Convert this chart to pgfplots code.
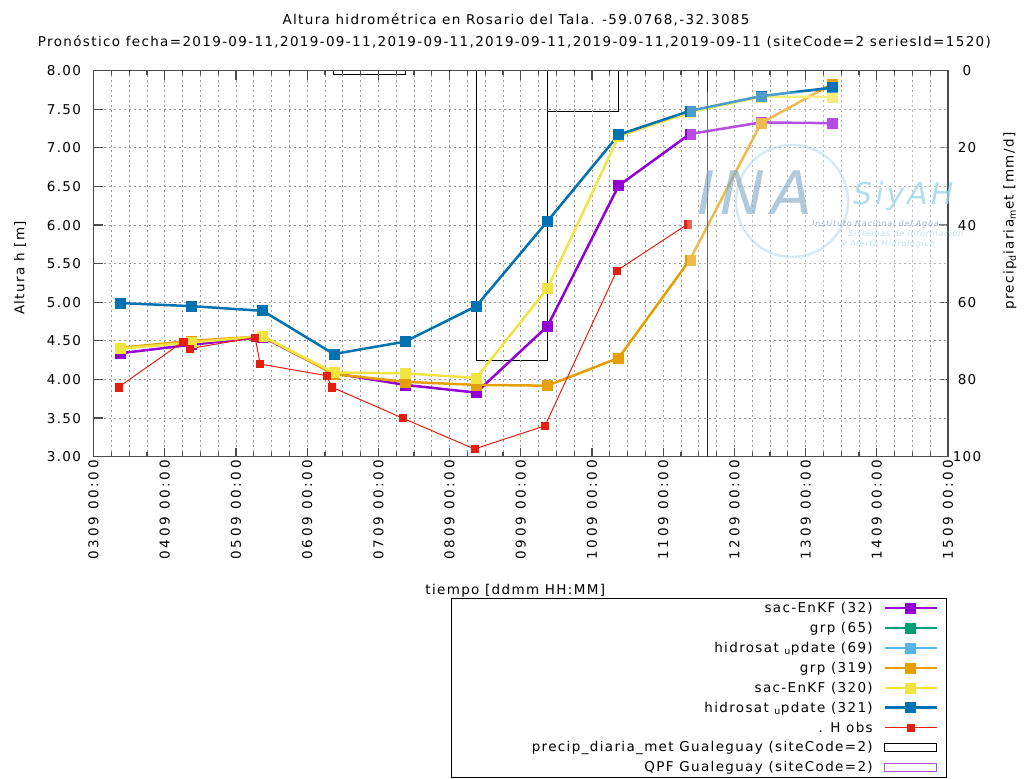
\documentclass[border=0pt]{standalone}
\usepackage{fontspec}
\setmainfont{DejaVu Sans}[LetterSpace=10]
\usepackage{pgfplots}
\pgfplotsset{compat=1.18}
\definecolor{cPurple}{HTML}{9400D3}
\definecolor{cGreen}{HTML}{009E73}
\definecolor{cLBlue}{HTML}{56B4E9}
\definecolor{cOrange}{HTML}{E69F00}
\definecolor{cYellow}{HTML}{F0E442}
\definecolor{cBlue}{HTML}{0072B2}
\definecolor{cRed}{HTML}{E51E10}
\definecolor{cQPF}{HTML}{B050E0}
\newcommand\fs{\fontsize{13.5bp}{16bp}\selectfont}
\newcommand\lt[1]{\makebox[424.3bp][r]{#1\hspace{11bp}}}
\pgfplotsset{
  model/.style={line width=2.5bp, mark=square*, mark size=5bp, mark options={solid, line width=0.6bp}},
  legend image code/.code={\draw[mark repeat=2,mark phase=2] plot coordinates {(0bp,0bp)(25.8bp,0bp)(51.6bp,0bp)};},
  /pgf/number format/assume math mode=true
}
\begin{document}
\begin{tikzpicture}[x=1bp,y=1bp]
\useasboundingbox (0,0) rectangle (1028,779);
% right axis: precipitation
\begin{axis}[
  at={(93.5bp,322.3bp)}, anchor=south west, scale only axis,
  width=854.5bp, height=386bp,
  xmin=0, xmax=12, ymin=0, ymax=100, y dir=reverse,
  axis x line=none, axis y line*=right,
  ytick={0,20,40,60,80,100},
  tick align=inside, major tick length=9bp,
  axis line style={black!70, line width=1.2bp},
  tick style={black!70, line width=1.2bp},
  tick label style={font=\fs},
  yticklabel style={anchor=center, xshift=19bp},
  ylabel={precip\textsubscript{d}iaria\textsubscript{m}et [mm/d]},
  label style={font=\fs},
  y label style={at={(axis description cs:1.0725,0.61)}, anchor=center},
]
\addplot[black, line width=1bp] coordinates {(3.375,0) (3.375,1.1) (4.375,1.1) (4.375,0)};
\addplot[black, line width=1bp] coordinates {(5.375,0) (5.375,75.1) (6.375,75.1) (6.375,0)};
\addplot[black, line width=1bp] coordinates {(6.375,0) (6.375,10.6) (7.375,10.6) (7.375,0)};
\end{axis}
% left axis: water level
\begin{axis}[
  at={(93.5bp,322.3bp)}, anchor=south west, scale only axis,
  width=854.5bp, height=386bp,
  xmin=0, xmax=12, ymin=3, ymax=8,
  xtick={0,1,...,12},
  xticklabels={0309 00:00,0409 00:00,0509 00:00,0609 00:00,0709 00:00,0809 00:00,0909 00:00,1009 00:00,1109 00:00,1209 00:00,1309 00:00,1409 00:00,1509 00:00},
  minor x tick num=3,
  ytick={3,3.5,...,8}, ytick pos=left, xtick pos=both,
  yticklabel={\pgfmathprintnumber[fixed,fixed zerofill,precision=2]{\tick}},
  tick align=inside, major tick length=9bp, minor tick length=4.5bp,
  grid=both,
  major grid style={black!40, dash pattern=on 2bp off 3bp, line width=0.8bp},
  minor grid style={black!40, dash pattern=on 2bp off 3bp, line width=0.8bp},
  axis line style={black!70, line width=1.2bp},
  tick style={black!70, line width=1.2bp},
  tick label style={font=\fs},
  xticklabel style={rotate=90, anchor=east, font=\fs\addfontfeature{LetterSpace=20}},
  yticklabel style={xshift=-9bp},
  label style={font=\fs},
  xlabel={tiempo [ddmm HH:MM]},
  x label style={at={(axis description cs:0.4935,-0.347)}, anchor=center},
  ylabel={Altura h [m]},
  y label style={at={(axis description cs:-0.086,0.489)}, anchor=center},
  legend plot pos=right,
  legend cell align=right,
  legend style={at={(axis description cs:0.9985,-0.3655)}, anchor=north east,
    draw=black, line width=1bp, inner xsep=8.4bp, inner ysep=0bp,
    nodes={inner sep=0pt, minimum height=19.9bp, font=\fs},
    row sep=0pt},
]
\addplot[model, cPurple] coordinates {(0.375,4.34) (1.375,4.45) (2.375,4.55) (3.375,4.08) (4.375,3.93) (5.375,3.83) (6.375,4.69) (7.375,6.51) (8.375,7.18) (9.375,7.33) (10.375,7.32)};
\addlegendentry{\lt{sac-EnKF (32)}}
\addlegendimage{model, cGreen}
\addlegendentry{\lt{grp (65)}}
\addplot[model, cLBlue] coordinates {(7.375,7.17) (8.375,7.47) (9.375,7.67) (10.375,7.78)};
\addlegendentry{\lt{hidrosat \textsubscript{u}pdate (69)}}
\addplot[model, cOrange] coordinates {(0.375,4.41) (1.375,4.50) (2.375,4.56) (3.375,4.07) (4.375,3.97) (5.375,3.93) (6.375,3.92) (7.375,4.28) (8.375,5.55) (9.375,7.32) (10.375,7.83)};
\addlegendentry{\lt{grp (319)}}
\addplot[model, cYellow] coordinates {(0.375,4.40) (1.375,4.48) (2.375,4.56) (3.375,4.09) (4.375,4.08) (5.375,4.02) (6.375,5.18) (7.375,7.15) (8.375,7.46) (9.375,7.66) (10.375,7.66)};
\addlegendentry{\lt{sac-EnKF (320)}}
\addplot[model, cBlue] coordinates {(0.375,4.99) (1.375,4.95) (2.375,4.89) (3.375,4.33) (4.375,4.49) (5.375,4.95) (6.375,6.05) (7.375,7.17) (8.375,7.48) (9.375,7.67) (10.375,7.78)};
\addlegendentry{\lt{hidrosat \textsubscript{u}pdate (321)}}
\addplot[cRed, line width=1bp, mark=square*, mark size=3.6bp, mark options={line width=0.5bp}] coordinates {(0.35,3.90) (1.26,4.49) (1.35,4.40) (2.27,4.545) (2.34,4.20) (3.27,4.05) (3.35,3.90) (4.34,3.50) (5.35,3.10) (6.34,3.40) (7.35,5.41) (8.34,6.01)};
\addlegendentry{\lt{. H obs}}
\addlegendimage{legend image code/.code={\draw[black, line width=1bp] (0bp,-4.2bp) rectangle (51.6bp,4.2bp);}}
\addlegendentry{\lt{precip\_diaria\_met Gualeguay (siteCode=2)}}
\addlegendimage{legend image code/.code={\draw[cQPF, line width=1bp] (0bp,-4.2bp) rectangle (51.6bp,4.2bp);}}
\addlegendentry{\lt{QPF Gualeguay (siteCode=2)}}
\addplot[black!85, line width=1.5bp, forget plot] coordinates {(8.625,3) (8.625,8)};
\end{axis}
% watermark
\fill[white, opacity=0.3] (687,489) rectangle (946.5,687);
\draw[color={rgb,255:red,175;green,212;blue,232}, line width=2.5bp, opacity=0.5] (792,578) circle (56);
\node[anchor=base west, inner sep=0, text depth=0pt, font=\fontsize{60bp}{60bp}\selectfont\itshape, text={rgb,255:red,126;green,166;blue,200}, opacity=0.6] at (697,564) {INA};
\node[anchor=base west, inner sep=0, text depth=0pt, font=\fontsize{30bp}{30bp}\selectfont\itshape, text={rgb,255:red,159;green,214;blue,230}, opacity=0.8] at (853,574) {SiyAH};
\node[anchor=base west, inner sep=0, text depth=0pt, text height=5bp, font=\fontsize{8bp}{8bp}\selectfont\itshape, text={rgb,255:red,140;green,165;blue,190}, opacity=0.8] at (812,552) {Instituto Nacional del Agua};
\node[anchor=base west, inner sep=0, text depth=0pt, text height=5bp, font=\fontsize{8bp}{8bp}\selectfont\itshape, text={rgb,255:red,168;green,220;blue,232}, opacity=0.8] at (848,542) {Sistemas de información};
\node[anchor=base west, inner sep=0, text depth=0pt, text height=5bp, font=\fontsize{8bp}{8bp}\selectfont\itshape, text={rgb,255:red,168;green,220;blue,232}, opacity=0.8] at (842,532) {y Alerta Hidrológico};
% titles
\node[anchor=base, inner sep=0, font=\fs] at (516,754) {Altura hidrométrica en Rosario del Tala. -59.0768,-32.3085};
\node[anchor=base, inner sep=0, font=\fs] at (514.5,732.3) {Pronóstico fecha=2019-09-11,2019-09-11,2019-09-11,2019-09-11,2019-09-11,2019-09-11 (siteCode=2 seriesId=1520)};
\end{tikzpicture}
\end{document}
